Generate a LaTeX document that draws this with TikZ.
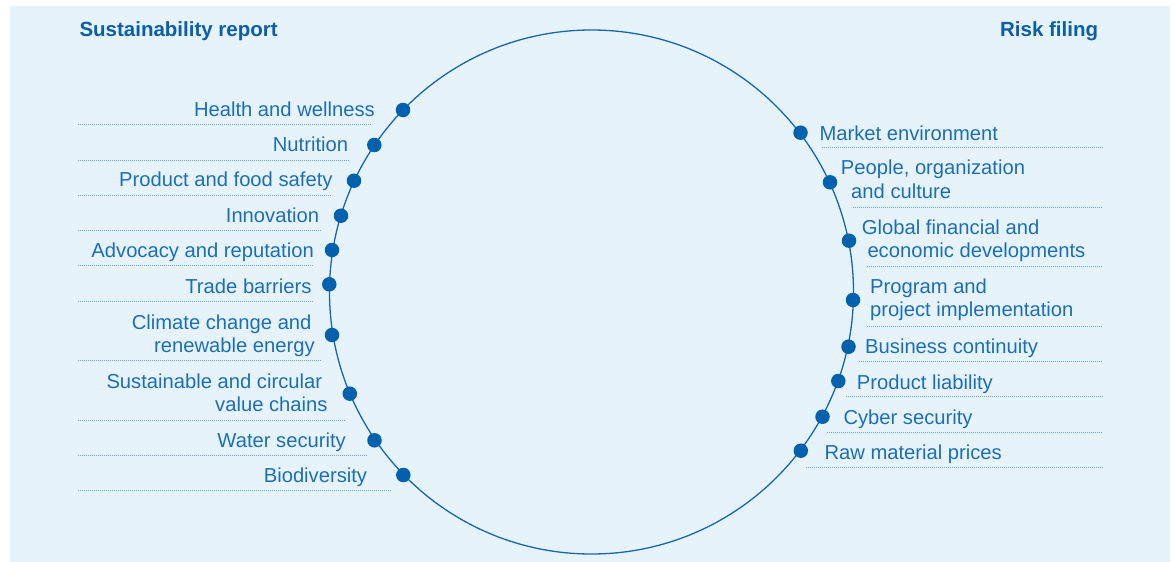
\documentclass[tikz,border=0pt]{standalone}
\usepackage{fontspec}
\setmainfont{Liberation Sans}
\definecolor{bgc}{HTML}{E6F3FA}
\definecolor{txtc}{HTML}{1C6FB6}
\definecolor{ttlc}{HTML}{0B5FAA}
\definecolor{dotc}{HTML}{0062AE}
\definecolor{ringc}{HTML}{1666B0}
\definecolor{rulec}{HTML}{6AAADC}
\begin{document}
\begin{tikzpicture}[x=1pt,y=-1pt,
  lbl/.style={inner sep=0pt,text=txtc,font=\fontsize{20.2}{23.4}\selectfont},
  lblL/.style={lbl,anchor=base east,align=right},
  lblR/.style={lbl,anchor=base west,align=left},
  ttl/.style={inner sep=0pt,text=ttlc,font=\fontsize{20.5}{24}\selectfont\bfseries},
  dotnode/.style={circle,fill=dotc,inner sep=0pt,minimum size=14.5pt},
  sep/.style={draw=rulec,line width=0.9pt,dash pattern=on 1pt off 1pt}]
\useasboundingbox (0,0) rectangle (1175,562);
\fill[bgc] (10,6) rectangle (1170,562);
% titles
\node[ttl,anchor=base west] (tsr) at (79.3,36.7) {Sustainability report};
\node[ttl,anchor=base east] (trf) at (1098.3,36.7) {Risk filing};
% ring
\node[circle,draw=ringc,line width=1.3pt,inner sep=0pt,minimum size=524pt] (ring) at (591.5,292) {};
% separators left
\draw[sep] (77.7,124) -- (371.7,124);
\draw[sep] (77.7,160) -- (348,160);
\draw[sep] (77.7,195.3) -- (331.7,195.3);
\draw[sep] (77.7,230.7) -- (321.7,230.7);
\draw[sep] (77.7,265.7) -- (313.3,265.7);
\draw[sep] (77.7,301) -- (313.3,301);
\draw[sep] (77.7,360.7) -- (321,360.7);
\draw[sep] (77.7,420) -- (345,420);
\draw[sep] (77.7,455) -- (366.7,455);
\draw[sep] (77.7,490.7) -- (390.7,490.7);
% separators right
\draw[sep] (821.7,147.7) -- (1102.7,147.7);
\draw[sep] (853.3,207.3) -- (1102.7,207.3);
\draw[sep] (867.3,266) -- (1102.7,266);
\draw[sep] (867.3,326) -- (1102.7,326);
\draw[sep] (859.3,361) -- (1102.7,361);
\draw[sep] (846,396.7) -- (1102.7,396.7);
\draw[sep] (827.3,432) -- (1102.7,432);
\draw[sep] (806,467.3) -- (1102.7,467.3);
% left dots
\node[dotnode] (l1) at (403,110) {};
\node[dotnode] (l2) at (374.3,145) {};
\node[dotnode] (l3) at (354,180.7) {};
\node[dotnode] (l4) at (341,215.7) {};
\node[dotnode] (l5) at (332,250) {};
\node[dotnode] (l6) at (329.3,284.3) {};
\node[dotnode] (l7) at (332,335) {};
\node[dotnode] (l8) at (349.8,393.7) {};
\node[dotnode] (l9) at (374.5,440.3) {};
\node[dotnode] (l10) at (403.3,475) {};
% right dots
\node[dotnode] (r1) at (800.5,132.7) {};
\node[dotnode] (r2) at (830,182.3) {};
\node[dotnode] (r3) at (849,240.7) {};
\node[dotnode] (r4) at (853,300) {};
\node[dotnode] (r5) at (848.5,346.7) {};
\node[dotnode] (r6) at (838.3,381) {};
\node[dotnode] (r7) at (822.5,416.7) {};
\node[dotnode] (r8) at (800.8,450.7) {};
% left labels
\node[lblL] (tl1) at (375,116.7) {Health and wellness};
\node[lblL] (tl2) at (348.3,151.7) {Nutrition};
\node[lblL] (tl3) at (332.7,186.7) {Product and food safety};
\node[lblL] (tl4) at (319.3,222.3) {Innovation};
\node[lblL] (tl5) at (314,257.7) {Advocacy and reputation};
\node[lblL] (tl6) at (311.7,293.3) {Trade barriers};
\node[lblL] (tl7) at (315,352.5) {Climate change and\kern3.3pt\\renewable energy};
\node[lblL] (tl8) at (327.7,411.4) {Sustainable and circular\kern5.4pt\\value chains};
\node[lblL] (tl9) at (346,447.7) {Water security};
\node[lblL] (tl10) at (367.3,482.7) {Biodiversity};
% right labels
\node[lblR] (tr1) at (819.3,140) {Market environment};
\node[lblR] (tr2) at (840.7,198.1) {People, organization\\\kern10.3pt and culture};
\node[lblR] (tr3) at (861.7,257.7) {Global financial and\\\kern5.6pt economic developments};
\node[lblR] (tr4) at (870,316.7) {Program and\\project implementation};
\node[lblR] (tr5) at (865,353.3) {Business continuity};
\node[lblR] (tr6) at (856.7,389) {Product liability};
\node[lblR] (tr7) at (843.3,424) {Cyber security};
\node[lblR] (tr8) at (824.3,459.3) {Raw material prices};
\end{tikzpicture}
\end{document}
